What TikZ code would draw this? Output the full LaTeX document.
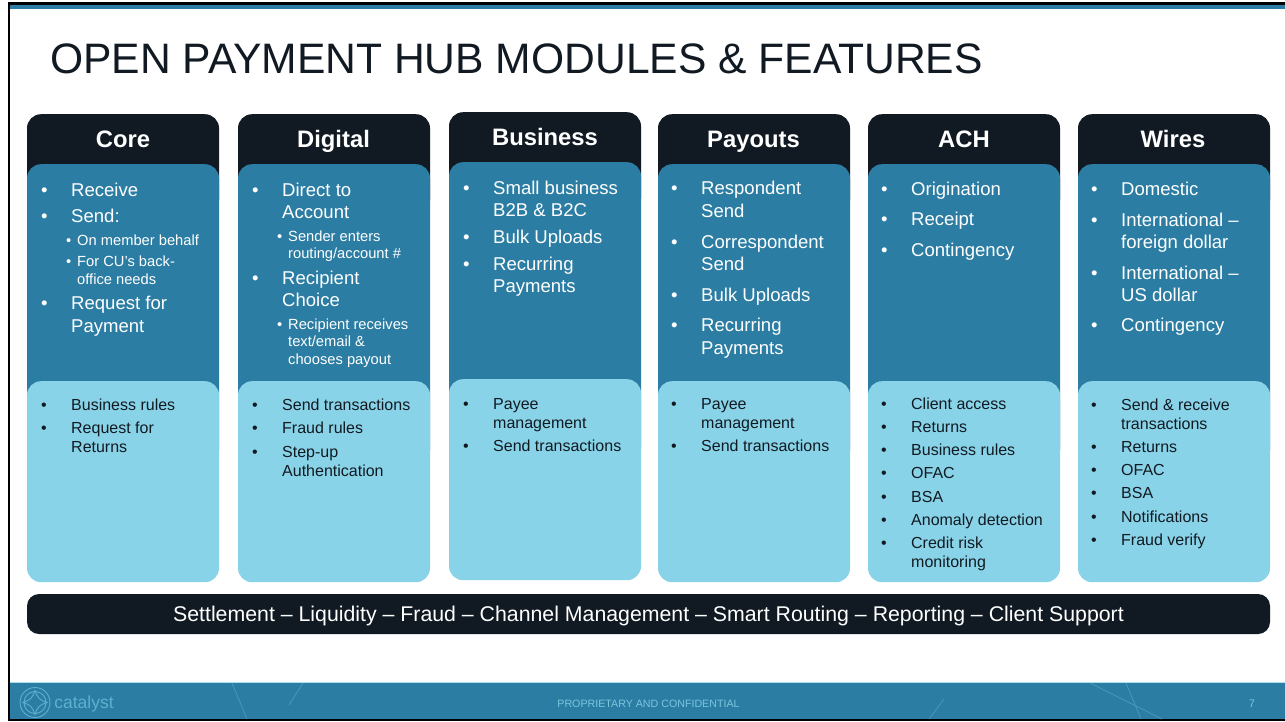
\documentclass[tikz,border=0pt]{standalone}
\usepackage{fontspec}
\setmainfont{Liberation Sans}
\definecolor{hubdark}{HTML}{111A22}
\definecolor{hubblue}{HTML}{2B7DA3}
\definecolor{hublight}{HTML}{89D3E8}
\definecolor{hubfoot}{HTML}{5FAFCF}
\tikzset{
  headbox/.style={fill=hubdark,rounded corners=14pt,minimum width=192pt,minimum height=100pt,anchor=north,inner sep=0pt},
  midbox/.style={fill=hubblue,rounded corners=14pt,minimum width=192pt,minimum height=300pt,anchor=north,inner sep=0pt},
  lightbox/.style={fill=hublight,rounded corners=14pt,minimum width=192pt,minimum height=201pt,anchor=north,inner sep=0pt},
  headtxt/.style={anchor=base,inner sep=0pt,white,font=\fontsize{23.8}{24}\selectfont\bfseries},
  bigtxt/.style={anchor=base west,inner sep=0pt,white,font=\fontsize{18.55}{20}\selectfont},
  subtxt/.style={anchor=base west,inner sep=0pt,white,font=\fontsize{14.7}{16}\selectfont},
  lowtxt/.style={anchor=base west,inner sep=0pt,hubdark,font=\fontsize{16}{18}\selectfont},
  foottxt/.style={anchor=base,inner sep=0pt,hubfoot},
  footline/.style={hubfoot!55!hubblue,line width=0.8pt}
}
\newcommand{\bigdot}{\makebox[28pt][l]{\hspace*{-2pt}\textbullet}}
\newcommand{\subdot}{\makebox[11pt][l]{\textbullet}}
\begin{document}
\begin{tikzpicture}[x=1pt,y=-1pt]
\useasboundingbox (0,0) rectangle (1285,721);
% frame and footer
\fill[black] (8,2.3) rectangle (1285,5.3);
\fill[hubblue] (10,5.3) rectangle (1285,8.6);
\fill[hublight!70!white] (10,681.5) rectangle (1285,683);
\fill[hubblue] (10,683) rectangle (1285,720);
\draw[black,line width=2pt] (9,721) -- (9,2.3);
\draw[black,line width=1.5pt] (8,720.2) -- (1285,720.2);
\draw[footline] (232,683) -- (247,719);
\draw[footline] (303,683) -- (289,705);
\draw[footline] (944,699) -- (929,719);
\draw[footline] (1090,683) -- (1162,719);
\draw[footline] (1126,683) -- (1141,719);
% logo
\draw[hubfoot,line width=0.9pt] (35,702.5) circle (15);
\draw[hubfoot,line width=0.9pt] (35,702.5) circle (11);
\draw[hubfoot,line width=0.9pt] (35,690.5) .. controls (37,697.5) and (40,700.5) .. (47,702.5) .. controls (40,704.5) and (37,707.5) .. (35,714.5) .. controls (33,707.5) and (30,704.5) .. (23,702.5) .. controls (30,700.5) and (33,697.5) .. (35,690.5) -- cycle;
\node[foottxt,font=\fontsize{17.5}{18}\selectfont] (catalyst) at (84,708.5) {catalyst};
\node[foottxt,hublight!85!hubblue,font=\fontsize{10.67}{11}\selectfont] (conf) at (648.5,707) {PROPRIETARY AND CONFIDENTIAL};
\node[foottxt,hublight!85!hubblue,font=\fontsize{11}{11}\selectfont] (page) at (1252,707) {7};
% title
\node[anchor=base west,inner sep=0pt,hubdark,font=\fontsize{42.6}{43}\selectfont] (title) at (50,73) {OPEN PAYMENT HUB MODULES \& FEATURES};
% panels
\node[headbox] (coreHead) at (123,114) {};
\node[midbox] (coreMid) at (123,164) {};
\node[lightbox] (coreLow) at (123,381) {};
\node[headbox] (digitalHead) at (334,114) {};
\node[midbox] (digitalMid) at (334,164) {};
\node[lightbox] (digitalLow) at (334,381) {};
\node[headbox] (businessHead) at (545,112) {};
\node[midbox] (businessMid) at (545,162) {};
\node[lightbox] (businessLow) at (545,379) {};
\node[headbox] (payoutsHead) at (754,114) {};
\node[midbox] (payoutsMid) at (754,164) {};
\node[lightbox] (payoutsLow) at (754,381) {};
\node[headbox] (achHead) at (964,114) {};
\node[midbox] (achMid) at (964,164) {};
\node[lightbox] (achLow) at (964,381) {};
\node[headbox] (wiresHead) at (1174,114) {};
\node[midbox] (wiresMid) at (1174,164) {};
\node[lightbox] (wiresLow) at (1174,381) {};
% heads
\node[headtxt] (coreName) at (123,147) {Core};
\node[headtxt] (digitalName) at (333.5,147) {Digital};
\node[headtxt] (businessName) at (545,145) {Business};
\node[headtxt] (payoutsName) at (753.5,147) {Payouts};
\node[headtxt] (achName) at (964,147) {ACH};
\node[headtxt] (wiresName) at (1173,147) {Wires};
% core
\node[bigtxt] (core1) at (43,196) {\bigdot Receive};
\node[bigtxt] (core2) at (43,222) {\bigdot Send:};
\node[subtxt] (core3) at (66,245) {\subdot On member behalf};
\node[subtxt] (core4) at (66,266) {\subdot For CU’s back-};
\node[subtxt] (core5) at (77,284) {office needs};
\node[bigtxt] (core6) at (43,309) {\bigdot Request for};
\node[bigtxt] (core7) at (71,332) {Payment};
\node[lowtxt] (core8) at (43,410) {\bigdot Business rules};
\node[lowtxt] (core9) at (43,433) {\bigdot Request for};
\node[lowtxt] (core10) at (71,452) {Returns};
% digital
\node[bigtxt] (digital1) at (254,196) {\bigdot Direct to};
\node[bigtxt] (digital2) at (282,218) {Account};
\node[subtxt] (digital3) at (277,241) {\subdot Sender enters};
\node[subtxt] (digital4) at (288,258) {routing/account \#};
\node[bigtxt] (digital5) at (254,284) {\bigdot Recipient};
\node[bigtxt] (digital6) at (282,306) {Choice};
\node[subtxt] (digital7) at (277,329) {\subdot Recipient receives};
\node[subtxt] (digital8) at (288,346) {text/email \&};
\node[subtxt] (digital9) at (288,364) {chooses payout};
\node[lowtxt] (digital10) at (254,410) {\bigdot Send transactions};
\node[lowtxt] (digital11) at (254,433) {\bigdot Fraud rules};
\node[lowtxt] (digital12) at (254,457) {\bigdot Step-up};
\node[lowtxt] (digital13) at (282,476) {Authentication};
% business
\node[bigtxt] (business1) at (465,194) {\bigdot Small business};
\node[bigtxt] (business2) at (493,216) {B2B \& B2C};
\node[bigtxt] (business3) at (465,243) {\bigdot Bulk Uploads};
\node[bigtxt] (business4) at (465,270) {\bigdot Recurring};
\node[bigtxt] (business5) at (493,292) {Payments};
\node[lowtxt] (business6) at (465,409) {\bigdot Payee};
\node[lowtxt] (business7) at (493,428) {management};
\node[lowtxt] (business8) at (465,451) {\bigdot Send transactions};
% payouts
\node[bigtxt] (payouts1) at (673,194) {\bigdot Respondent};
\node[bigtxt] (payouts2) at (701,217) {Send};
\node[bigtxt] (payouts3) at (673,248) {\bigdot Correspondent};
\node[bigtxt] (payouts4) at (701,270) {Send};
\node[bigtxt] (payouts5) at (673,301) {\bigdot Bulk Uploads};
\node[bigtxt] (payouts6) at (673,331) {\bigdot Recurring};
\node[bigtxt] (payouts7) at (701,354) {Payments};
\node[lowtxt] (payouts8) at (673,409) {\bigdot Payee};
\node[lowtxt] (payouts9) at (701,428) {management};
\node[lowtxt] (payouts10) at (673,451) {\bigdot Send transactions};
% ach
\node[bigtxt] (ach1) at (883,195) {\bigdot Origination};
\node[bigtxt] (ach2) at (883,225) {\bigdot Receipt};
\node[bigtxt] (ach3) at (883,256) {\bigdot Contingency};
\node[lowtxt] (ach4) at (883,409) {\bigdot Client access};
\node[lowtxt] (ach5) at (883,432) {\bigdot Returns};
\node[lowtxt] (ach6) at (883,455) {\bigdot Business rules};
\node[lowtxt] (ach7) at (883,478) {\bigdot OFAC};
\node[lowtxt] (ach8) at (883,502) {\bigdot BSA};
\node[lowtxt] (ach9) at (883,525) {\bigdot Anomaly detection};
\node[lowtxt] (ach10) at (883,548) {\bigdot Credit risk};
\node[lowtxt] (ach11) at (911,567) {monitoring};
% wires
\node[bigtxt] (wires1) at (1093,195) {\bigdot Domestic};
\node[bigtxt] (wires2) at (1093,226) {\bigdot International –};
\node[bigtxt] (wires3) at (1121,248) {foreign dollar};
\node[bigtxt] (wires4) at (1093,279) {\bigdot International –};
\node[bigtxt] (wires5) at (1121,301) {US dollar};
\node[bigtxt] (wires6) at (1093,331) {\bigdot Contingency};
\node[lowtxt] (wires7) at (1093,410) {\bigdot Send \& receive};
\node[lowtxt] (wires8) at (1121,429) {transactions};
\node[lowtxt] (wires9) at (1093,452) {\bigdot Returns};
\node[lowtxt] (wires10) at (1093,475) {\bigdot OFAC};
\node[lowtxt] (wires11) at (1093,498) {\bigdot BSA};
\node[lowtxt] (wires12) at (1093,522) {\bigdot Notifications};
\node[lowtxt] (wires13) at (1093,545) {\bigdot Fraud verify};
% bottom bar
\node[fill=hubdark,rounded corners=12pt,minimum width=1243pt,minimum height=40pt,inner sep=0pt] (bar) at (648.5,614) {};
\node[anchor=base,inner sep=0pt,white,font=\fontsize{21.3}{21}\selectfont] (barText) at (648.5,621.5) {Settlement – Liquidity – Fraud – Channel Management – Smart Routing – Reporting – Client Support};
\end{tikzpicture}
\end{document}
